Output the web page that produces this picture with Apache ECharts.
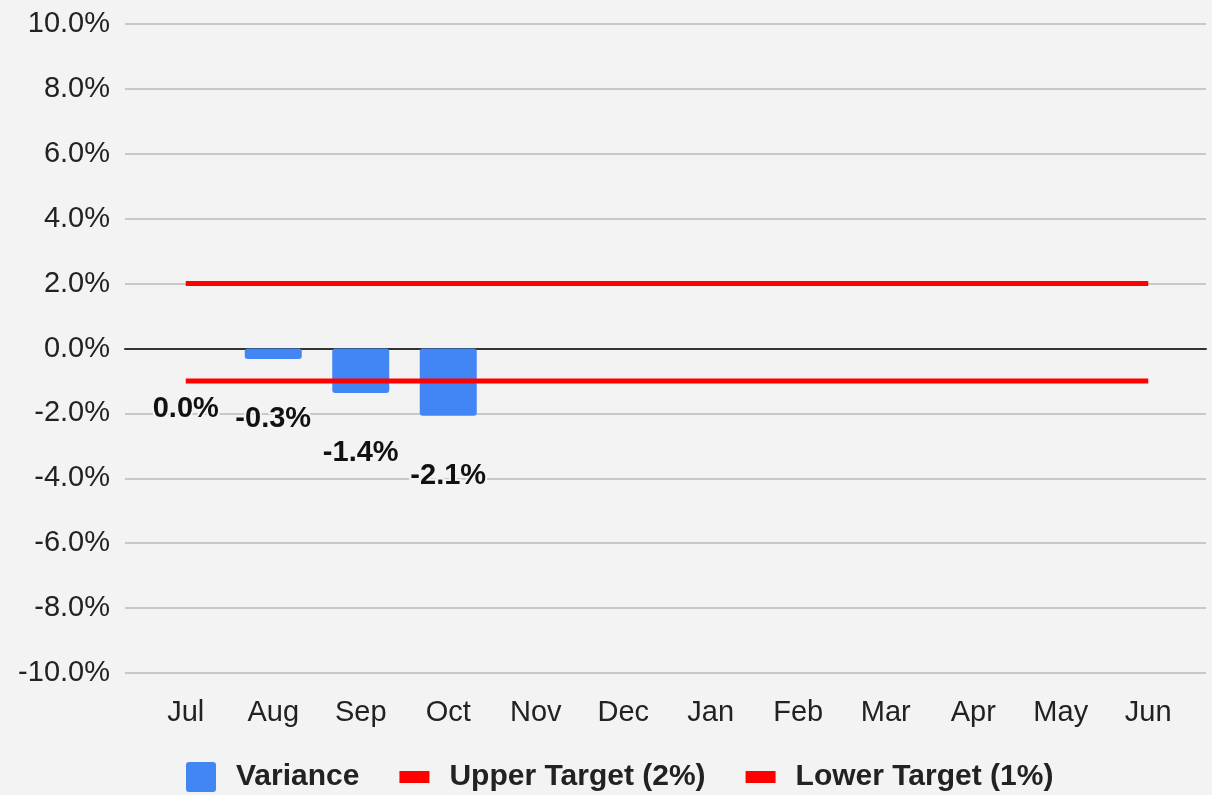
<!DOCTYPE html>
<html>
<head>
<meta charset="utf-8">
<script src="https://cdn.jsdelivr.net/npm/echarts@6/dist/echarts.min.js"></script>
<style>
html,body{margin:0;padding:0;background:#f3f3f3;}
#chart{width:1212px;height:795px;}
</style>
</head>
<body>
<div id="chart"></div>
<script>
const months = ['Jul','Aug','Sep','Oct','Nov','Dec','Jan','Feb','Mar','Apr','May','Jun'];
const variance = [0, -0.32, -1.37, -2.07, null, null, null, null, null, null, null, null];
const upperTarget = [2, 2, 2, 2, 2, 2, 2, 2, 2, 2, 2, 2];
const lowerTarget = [-1, -1, -1, -1, -1, -1, -1, -1, -1, -1, -1, -1];
const yMin = -10, yMax = 10, yStep = 2;

const FONT = '"Liberation Sans", Arial, sans-serif';
const chart = echarts.init(document.getElementById('chart'));
chart.setOption({
  backgroundColor: '#f3f3f3',
  animation: false,
  textStyle: { fontFamily: FONT },
  grid: [
    { left: 125, right: 6, top: 24, bottom: 122 },
    { left: 142, right: 20, top: 24, bottom: 122 }
  ],
  xAxis: [
    { gridIndex: 0, type: 'value', min: 0, max: 1,
      axisLine: { show: true, onZero: true, lineStyle: { color: '#333', width: 2 } },
      axisTick: { show: false }, axisLabel: { show: false }, splitLine: { show: false } },
    { gridIndex: 1, type: 'category', data: months, boundaryGap: true,
      axisLine: { show: false }, axisTick: { show: false }, splitLine: { show: false },
      axisLabel: { color: '#222', fontSize: 29, fontFamily: FONT, margin: 25 } }
  ],
  yAxis: [
    { gridIndex: 0, type: 'value', min: yMin, max: yMax, interval: yStep,
      axisLine: { show: false }, axisTick: { show: false },
      axisLabel: { color: '#222', fontSize: 29, fontFamily: FONT, margin: 15,
        formatter: v => v.toFixed(1) + '%' },
      splitLine: { show: true, lineStyle: { color: '#c8c8c8', width: 2 } } },
    { gridIndex: 1, type: 'value', min: yMin, max: yMax, interval: yStep, show: false,
      splitLine: { show: false } }
  ],
  legend: {
    left: 186, top: 762, padding: 0,
    itemWidth: 30, itemHeight: 30, itemGap: 40,
    textStyle: { color: '#222', fontSize: 30, fontWeight: 'bold', fontFamily: FONT, padding: [0, 0, 0, 15] },
    data: [
      { name: 'Variance', icon: 'path://M3,0h24a3,3 0 0 1 3,3v24a3,3 0 0 1 -3,3h-24a3,3 0 0 1 -3,-3v-24a3,3 0 0 1 3,-3z' },
      { name: 'Upper Target (2%)', icon: 'path://M0,0h30v12h-30z' },
      { name: 'Lower Target (1%)', icon: 'path://M0,0h30v12h-30z' }
    ]
  },
  series: [
    { name: 'Variance', type: 'bar', xAxisIndex: 1, yAxisIndex: 1, data: variance,
      barWidth: 57,
      itemStyle: { color: '#4285f4', borderRadius: 3 },
      label: { show: true, position: 'bottom', distance: 46,
        color: '#111', fontSize: 29, fontWeight: 'bold', fontFamily: FONT,
        textBorderColor: '#f3f3f3', textBorderWidth: 4,
        formatter: p => p.value == null ? '' : p.value.toFixed(1) + '%' },
      z: 2 },
    { name: 'Upper Target (2%)', type: 'line', xAxisIndex: 1, yAxisIndex: 1, data: upperTarget,
      symbol: 'none', lineStyle: { color: '#ff0000', width: 5 }, itemStyle: { color: '#ff0000' }, z: 3 },
    { name: 'Lower Target (1%)', type: 'line', xAxisIndex: 1, yAxisIndex: 1, data: lowerTarget,
      symbol: 'none', lineStyle: { color: '#ff0000', width: 5 }, itemStyle: { color: '#ff0000' }, z: 3 }
  ]
});
</script>
</body>
</html>
